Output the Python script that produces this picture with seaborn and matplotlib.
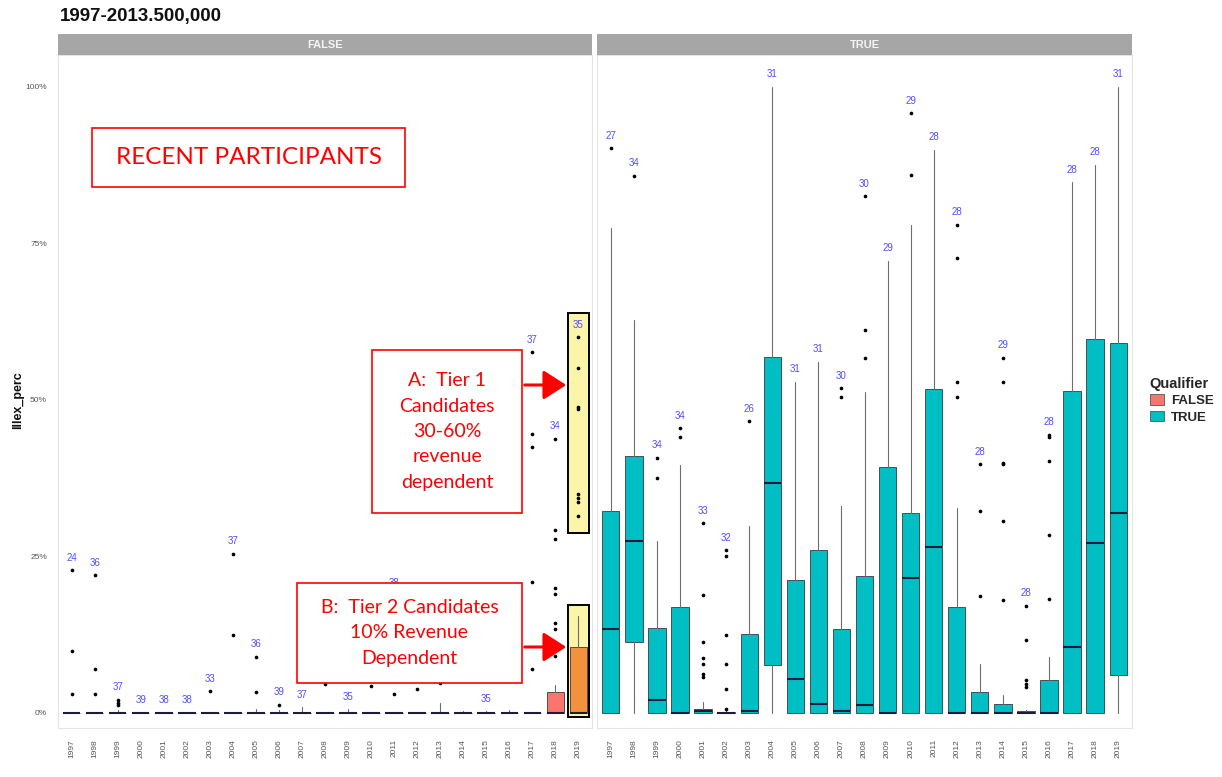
import matplotlib
matplotlib.use("Agg")
import matplotlib.pyplot as plt
import numpy as np
import pandas as pd
import seaborn as sns
from matplotlib.patches import Rectangle, Patch, FancyArrowPatch

# ---------------- data ----------------
years = ["1997", "1998", "1999", "2000", "2001", "2002", "2003", "2004", "2005", "2006", "2007", "2008",
         "2009", "2010", "2011", "2012", "2013", "2014", "2015", "2016", "2017", "2018", "2019"]

# Qualifier = FALSE panel
false_q1 = [0, 0, 0, 0, 0, 0, 0, 0, 0, 0, 0, 0, 0, 0, 0, 0, 0, 0, 0, 0, 0, 0, 0]
false_med = [0, 0, 0, 0, 0, 0, 0, 0, 0, 0, 0, 0, 0, 0, 0, 0, 0, 0, 0, 0, 0, 0, 0]
false_q3 = [0, 0, 0, 0, 0, 0, 0, 0, 0, 0, 0, 0, 0, 0, 0, 0, 0, 0, 0, 0, 0, 0.034, 0.106]
false_whislo = [0, 0, 0, 0, 0, 0, 0, 0, 0, 0, 0, 0, 0, 0, 0, 0, 0, 0, 0, 0, 0, 0, 0]
false_whishi = [0, 0, 0.005, 0, 0, 0, 0, 0, 0.006, 0.004, 0.009, 0, 0.006, 0, 0, 0, 0.016, 0.003,
                0.003, 0.004, 0, 0.045, 0.155]
false_fliers = [
    [0.228, 0.099, 0.030],
    [0.220, 0.070, 0.030],
    [0.021, 0.016, 0.012],
    [], [], [],
    [0.035],
    [0.254, 0.125],
    [0.090, 0.034],
    [0.013],
    [],
    [0.046],
    [],
    [0.043],
    [0.188, 0.030],
    [0.053, 0.038],
    [0.048],
    [0.060],
    [],
    [0.070],
    [0.576, 0.446, 0.425, 0.209, 0.070],
    [0.438, 0.292, 0.278, 0.200, 0.190, 0.144, 0.134, 0.091],
    [0.600, 0.551, 0.489, 0.485, 0.350, 0.343, 0.337, 0.315],
]
# counts hidden behind the annotation box in the reference are left as None
false_counts = [24, 36, 37, 39, 38, 38, 33, 37, 36, 39, 37, None, 35, None, 38, None, None, None, 35,
                None, 37, 34, 35]

# Qualifier = TRUE panel
true_q1 = [0, 0.114, 0, 0, 0, 0, 0, 0.077, 0, 0, 0, 0, 0, 0, 0, 0, 0, 0, 0, 0, 0, 0, 0.061]
true_med = [0.134, 0.275, 0.020, 0.0, 0.003, 0.0, 0.003, 0.368, 0.055, 0.015, 0.003, 0.013, 0.0,
            0.216, 0.265, 0.0, 0.0, 0.0, 0.0, 0.0, 0.106, 0.271, 0.320]
true_q3 = [0.323, 0.411, 0.135, 0.170, 0.007, 0.002, 0.126, 0.569, 0.212, 0.260, 0.134, 0.218, 0.393,
           0.320, 0.517, 0.170, 0.034, 0.014, 0.003, 0.053, 0.515, 0.597, 0.591]
true_whislo = [0, 0, 0, 0, 0, 0, 0, 0, 0, 0, 0, 0, 0, 0, 0, 0, 0, 0, 0, 0, 0, 0, 0]
true_whishi = [0.775, 0.628, 0.275, 0.396, 0.018, 0.005, 0.298, 1.0, 0.529, 0.561, 0.330, 0.512, 0.722,
               0.779, 0.900, 0.327, 0.079, 0.029, 0.005, 0.090, 0.848, 0.876, 1.0]
true_fliers = [
    [0.902],
    [0.858],
    [0.408, 0.376],
    [0.455, 0.441],
    [0.303, 0.188, 0.114, 0.088, 0.078, 0.062, 0.058],
    [0.260, 0.250, 0.125, 0.079, 0.039, 0.006],
    [0.466],
    [], [], [],
    [0.519, 0.505],
    [0.825, 0.611, 0.567],
    [],
    [0.958, 0.859],
    [],
    [0.780, 0.727, 0.529, 0.505],
    [0.397, 0.323, 0.187],
    [0.567, 0.528, 0.400, 0.398, 0.307, 0.180],
    [0.171, 0.117, 0.053, 0.047, 0.042],
    [0.444, 0.441, 0.402, 0.285, 0.182],
    [], [], [],
]
true_counts = [27, 34, 34, 34, 33, 32, 26, 31, 31, 31, 30, 30, 29, 29, 28, 28, 28, 29, 28, 28, 28, 28, 31]

y_ticks = [0, 0.25, 0.5, 0.75, 1.0]
y_tick_labels = ["0%", "25%", "50%", "75%", "100%"]

# ---------------- style ----------------
sns.set_theme(style="white")
plt.rcParams["font.family"] = ["Liberation Sans", "DejaVu Sans"]

W, H = 1222, 777
RED = "#F8766D"
TEAL = "#00BFC4"
ORANGE = "#F2923C"
LABEL_BLUE = "#4F4FFF"
ANNO_RED = "#FF0000"

fig = plt.figure(figsize=(W / 100, H / 100), dpi=100)
fig.patch.set_facecolor("white")


def fx(x):
    return x / W


def fy(y):
    return 1 - y / H


axL = fig.add_axes([fx(58), fy(728), 534 / W, 673 / H])
axR = fig.add_axes([fx(597), fy(728), 535 / W, 673 / H])

panel_defs = [
    (axL, "FALSE", RED, false_q1, false_med, false_q3, false_whislo, false_whishi, false_fliers, false_counts),
    (axR, "TRUE", TEAL, true_q1, true_med, true_q3, true_whislo, true_whishi, true_fliers, true_counts),
]

positions = np.arange(len(years))

for ax, name, color, q1, med, q3, wlo, whi, fl, cnt in panel_defs:
    stats = []
    for i in range(len(years)):
        stats.append(dict(q1=q1[i], med=med[i], q3=q3[i], whislo=wlo[i], whishi=whi[i], fliers=[]))
    bp = ax.bxp(stats, positions=positions, widths=0.75, patch_artist=True, showfliers=False,
                showcaps=False,
                boxprops=dict(facecolor=color, edgecolor="#3a3a3a", linewidth=0.6),
                whiskerprops=dict(color="#6e6e6e", linewidth=0.8),
                medianprops=dict(color="#1c1c3a", linewidth=1.5),
                manage_ticks=False)
    for b in bp["boxes"]:
        b.set_zorder(2)

    # outliers via seaborn
    rows = []
    for i, vals in enumerate(fl):
        for v in vals:
            rows.append({"pos": positions[i], "value": v})
    df = pd.DataFrame(rows)
    sns.scatterplot(data=df, x="pos", y="value", color="black", s=7, linewidth=0, ax=ax,
                    legend=False, zorder=3)

    # count labels (max + 2%)
    for i in range(len(years)):
        if cnt[i] is None:
            continue
        top = max([whi[i]] + fl[i])
        ax.text(positions[i], top + 0.02, str(cnt[i]), color=LABEL_BLUE, fontsize=7,
                ha="center", va="center", zorder=4)

    ax.set_xlim(-0.6, len(years) - 0.4)
    ax.set_ylim(-0.024, 1.051)
    ax.set_xticks(positions)
    ax.set_xticklabels(years, rotation=90, fontsize=6, color="#555555")
    ax.set_yticks(y_ticks)
    ax.set_xlabel("")
    ax.set_ylabel("")
    ax.tick_params(axis="both", length=2, color="#aaaaaa", pad=6)
    for sp in ax.spines.values():
        sp.set_color("#e4e4e4")
        sp.set_linewidth(0.8)
    ax.set_facecolor("white")

    # strip header
    x0, x1 = ax.get_position().x0, ax.get_position().x1
    fig.add_artist(Rectangle((x0, fy(55)), x1 - x0, 21 / H, transform=fig.transFigure,
                             facecolor="#a6a6a6", edgecolor="none"))
    fig.text((x0 + x1) / 2, fy(44.5), name, color="#f4f4f4", fontsize=8, fontweight="bold",
             ha="center", va="center")

axL.set_yticklabels(y_tick_labels, fontsize=6, color="#555555")
axR.set_yticklabels([])
axR.tick_params(axis="y", length=0)

# highlight the 2019 FALSE box
boxes_L = [p for p in axL.patches]
boxes_L[-1].set_facecolor(ORANGE)

# yellow highlight rectangles around 2019 (FALSE)
axL.add_patch(Rectangle((21.55, 0.287), 0.92, 0.352, facecolor="#FBF5A8", edgecolor="black",
                        linewidth=1.4, zorder=1))
axL.add_patch(Rectangle((21.55, -0.006), 0.92, 0.178, facecolor="#FBF5A8", edgecolor="black",
                        linewidth=1.4, zorder=1))

# title and axis label
fig.text(fx(60), fy(17), "1997-2013.500,000", fontsize=13.5, fontweight="bold", ha="left",
         va="center", color="#111111")
fig.text(fx(18), fy(400), "lllex_perc", fontsize=9, fontweight="bold", rotation=90,
         ha="center", va="center", color="#111111")


# annotation boxes (drawn in figure pixel space on top of the left panel)
def anno_box(x0, y0, x1, y1, text, size, ls):
    axL.add_patch(Rectangle((fx(x0), fy(y1)), (x1 - x0) / W, (y1 - y0) / H, transform=fig.transFigure,
                            facecolor="white", edgecolor=ANNO_RED, linewidth=1.2, zorder=10,
                            clip_on=False))
    axL.text(fx((x0 + x1) / 2), fy((y0 + y1) / 2), text, transform=fig.transFigure, color=ANNO_RED,
             fontsize=size, ha="center", va="center", linespacing=ls, family="Lato", zorder=11,
             clip_on=False)


anno_box(92, 128, 405, 187, "RECENT PARTICIPANTS", 17.5, 1.2)
anno_box(372, 350, 522, 513, "A:  Tier 1\nCandidates\n30-60%\nrevenue\ndependent", 14, 1.6)
anno_box(297, 583, 522, 683, "B:  Tier 2 Candidates\n10% Revenue\nDependent", 14, 1.58)

for yy in (385, 647):
    arr = FancyArrowPatch((fx(522), fy(yy)), (fx(569), fy(yy)), transform=fig.transFigure,
                          arrowstyle="-|>,head_length=0.7,head_width=0.45", mutation_scale=20,
                          color=ANNO_RED, linewidth=2.2, zorder=12, clip_on=False)
    axL.add_artist(arr)

# legend
handles = [Patch(facecolor=RED, edgecolor="#555555", linewidth=0.6),
           Patch(facecolor=TEAL, edgecolor="#555555", linewidth=0.6)]
fig.legend(handles, ["FALSE", "TRUE"], title="Qualifier", loc="upper left",
           bbox_to_anchor=(fx(1138), fy(365)), frameon=False,
           title_fontproperties={"weight": "bold", "size": 10.5},
           prop={"weight": "bold", "size": 9.5}, handlelength=1.1, handleheight=0.9,
           handletextpad=0.5, labelspacing=0.25, alignment="left")

fig.savefig("out.png", dpi=100, facecolor="white")
